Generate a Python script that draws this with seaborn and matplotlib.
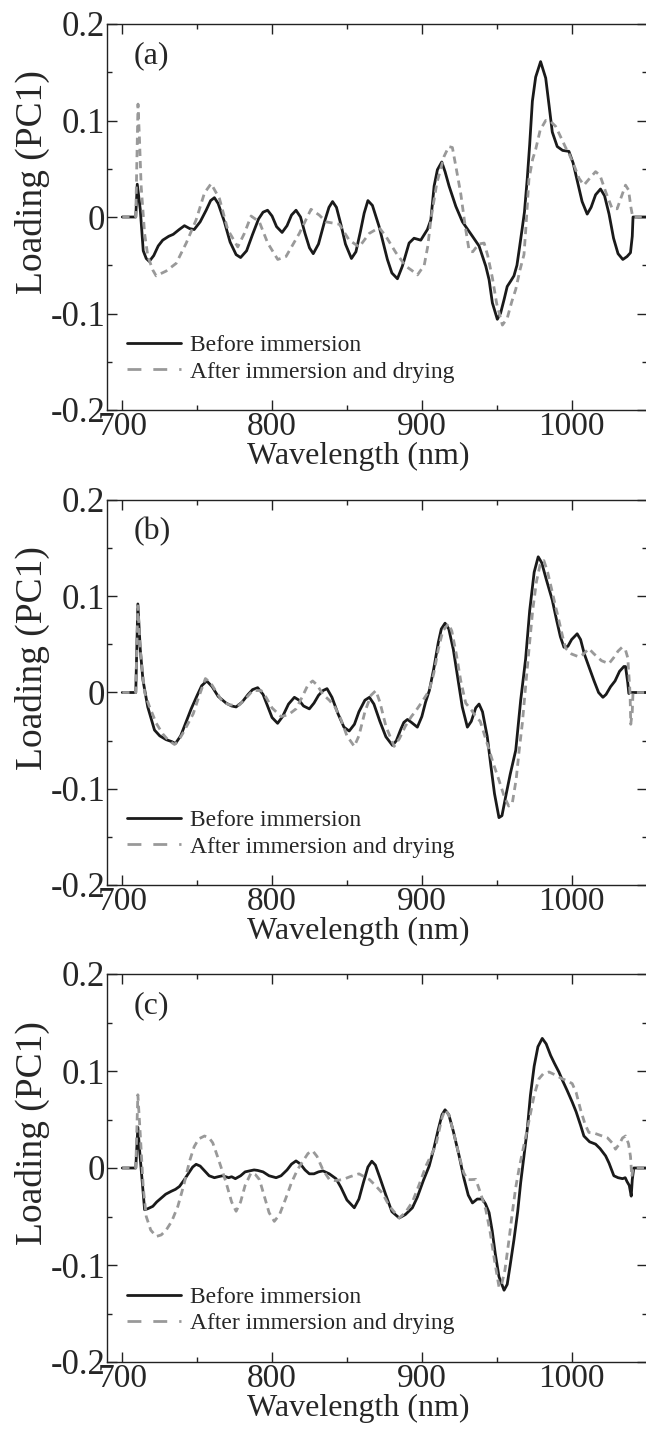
import numpy as np
import pandas as pd
import matplotlib
matplotlib.use("Agg")
import matplotlib.pyplot as plt
from matplotlib.ticker import MultipleLocator, FixedLocator
from matplotlib.lines import Line2D
import seaborn as sns

# ---- data (wavelength nm, PC1 loading) ----
a_before_wl = [700, 709, 710, 712, 714, 716, 718, 721, 724, 727, 731, 734, 738, 741.5, 745, 748, 752, 756, 759, 761.5,
               764, 768, 772, 776, 779, 783, 787, 791, 794, 797, 800, 803, 806.7, 810, 813, 816, 819, 822, 825, 827.5,
               831, 835, 838, 840.4, 843, 846, 849, 853, 856, 859, 861.5, 864, 867, 871.5, 877, 880, 883.7, 887, 891.5,
               894.8, 899.3, 903.7, 906, 908.2, 910.4, 913.3, 915.5, 918.2, 922.7, 927.1, 933.8, 938.2, 942.7, 944.9,
               947.1, 950.4, 952.6, 955, 957, 959.5, 961.5, 963.5, 965, 967, 968.5, 970.4, 972, 973.8, 976, 979.3,
               982.7, 985, 987.1, 990.4, 994, 998.2, 1001, 1004, 1007, 1010.4, 1013, 1016, 1019.3, 1022, 1025, 1028,
               1031, 1034.2, 1037, 1039.3, 1040.5, 1041, 1050]
a_before = [0, 0, 0.034, 0.008, -0.035, -0.043, -0.046, -0.040, -0.030, -0.024, -0.020, -0.018, -0.013, -0.009, -0.012,
            -0.013, -0.005, 0.007, 0.017, 0.020, 0.014, -0.004, -0.026, -0.039, -0.042, -0.035, -0.018, -0.002, 0.005,
            0.007, 0.001, -0.010, -0.016, -0.009, 0.002, 0.007, 0.000, -0.017, -0.032, -0.038, -0.028, -0.005, 0.010,
            0.016, 0.010, -0.008, -0.028, -0.043, -0.036, -0.015, 0.004, 0.017, 0.012, -0.010, -0.044, -0.058, -0.064,
            -0.051, -0.027, -0.022, -0.024, -0.013, -0.003, 0.032, 0.049, 0.057, 0.047, 0.032, 0.011, -0.005, -0.020,
            -0.030, -0.051, -0.065, -0.089, -0.106, -0.0995, -0.085, -0.072, -0.066, -0.061, -0.050, -0.034, -0.012,
            0.005, 0.040, 0.075, 0.120, 0.145, 0.161, 0.144, 0.115, 0.088, 0.073, 0.069, 0.068, 0.056, 0.036, 0.016,
            0.003, 0.010, 0.023, 0.029, 0.022, 0.003, -0.022, -0.038, -0.044, -0.041, -0.037, -0.020, 0, 0]

a_after_wl = [700, 709, 710.5, 711.5, 712.6, 714.9, 717.1, 720.4, 722.6, 729.3, 736, 742.7, 749.3, 754.9, 759.3, 764.9,
              770.4, 777.1, 781.5, 786, 791.5, 797.1, 803.8, 809.3, 818.2, 826, 831.5, 836, 844.9, 851.5, 858.2, 864.9,
              871.5, 876, 882.7, 889.3, 893, 897.1, 901.6, 904, 906, 910, 914.9, 918, 920.4, 923, 926, 929, 931.6, 934,
              938, 941.6, 944, 947.1, 950, 953.8, 957, 960, 962.7, 965.5, 968.2, 969.3, 971.5, 974, 976, 979, 982.7,
              986, 989.3, 993, 996, 998.2, 1002, 1005, 1008.2, 1012, 1016, 1019, 1023, 1027, 1030.4, 1033, 1036, 1038,
              1039.6, 1040.8, 1050]
a_after = [0, 0, 0.117, 0.080, 0.032, -0.017, -0.041, -0.055, -0.061, -0.056, -0.048, -0.027, -0.003, 0.025, 0.0345,
           0.019, -0.013, -0.031, -0.017, 0.001, -0.005, -0.027, -0.044, -0.041, -0.017, 0.008, 0.002, -0.005, -0.0075,
           -0.024, -0.031, -0.017, -0.011, -0.020, -0.037, -0.051, -0.055, -0.060, -0.050, -0.030, -0.003, 0.035, 0.063,
           0.073, 0.072, 0.050, 0.024, -0.010, -0.035, -0.036, -0.028, -0.027, -0.040, -0.063, -0.090, -0.112, -0.105,
           -0.088, -0.075, -0.055, -0.039, -0.015, 0.039, 0.060, 0.070, 0.090, 0.100, 0.099, 0.094, 0.082, 0.072,
           0.066, 0.052, 0.040, 0.033, 0.040, 0.047, 0.043, 0.025, 0.009, 0.0085, 0.020, 0.033, 0.028, 0.010, 0, 0]

b_before_wl = [700, 709, 710.4, 712, 713.8, 717, 721.5, 725, 729.3, 733, 735.5, 739, 742, 746, 750, 753, 756.4, 760,
               764, 769.3, 773, 776, 780, 784, 787, 790.4, 794, 797, 800, 803.7, 807, 811, 814.9, 818, 821, 824.9, 828,
               831, 834, 836.7, 840, 844, 848, 851.5, 855, 858, 862, 865, 868, 872, 876, 880.4, 883, 886, 888, 890.4,
               893, 897, 900, 902.5, 905, 908, 911, 913, 915.5, 918, 921, 924, 927, 930.4, 933, 936, 938.2, 940.5,
               943.7, 946, 948.5, 951.5, 953.5, 956, 959, 962.7, 966, 969.3, 972, 975, 977.7, 980, 983, 987.1, 990,
               992.5, 994.9, 997.5, 1000, 1003.7, 1006, 1008.5, 1011.5, 1015, 1018, 1020.9, 1023, 1026, 1029, 1032,
               1034.9, 1036, 1037.5, 1038.2, 1039, 1050]
b_before = [0, 0, 0.092, 0.045, 0.013, -0.015, -0.039, -0.045, -0.049, -0.051, -0.053, -0.045, -0.033, -0.017, -0.003,
            0.007, 0.012, 0.006, -0.004, -0.011, -0.014, -0.015, -0.010, -0.002, 0.003, 0.005, -0.002, -0.014, -0.026,
            -0.032, -0.025, -0.012, -0.005, -0.008, -0.014, -0.017, -0.011, -0.003, 0.002, 0.004, -0.005, -0.022,
            -0.036, -0.040, -0.033, -0.020, -0.008, -0.005, -0.012, -0.030, -0.046, -0.055, -0.050, -0.038, -0.031,
            -0.028, -0.031, -0.036, -0.025, -0.010, 0.002, 0.025, 0.052, 0.066, 0.072, 0.066, 0.045, 0.015, -0.015,
            -0.036, -0.030, -0.016, -0.012, -0.020, -0.046, -0.075, -0.105, -0.130, -0.128, -0.108, -0.085, -0.060,
            -0.008, 0.035, 0.085, 0.125, 0.141, 0.135, 0.118, 0.096, 0.075, 0.058, 0.047, 0.048, 0.055, 0.061, 0.055,
            0.040, 0.027, 0.012, 0.000, -0.005, -0.002, 0.006, 0.012, 0.022, 0.027, 0.027, 0.010, -0.001, 0, 0]

b_after_wl = [700, 709, 710.4, 712, 714.9, 718, 722.7, 727, 731, 734.9, 737.5, 740.4, 744, 747.4, 751, 755.5, 759, 763,
              767.1, 772, 778.2, 782, 787.1, 792.7, 796, 800, 806, 811, 816, 820, 824, 827.1, 830, 834, 838.2, 842, 846,
              850, 854.9, 858, 862, 866, 869.3, 872, 876, 881.5, 885, 889, 893, 896, 900, 904.9, 908, 911, 914, 917.8,
              920, 923, 926, 929.3, 933, 936, 939, 942, 945, 948, 951.5, 955, 958, 960.4, 963, 965, 967.1, 969.5,
              971.5, 974, 976.5, 979, 981.5, 984, 987, 989.5, 991.5, 994, 996, 1000, 1004.9, 1008, 1011.5, 1015, 1020,
              1024.9, 1028, 1031, 1033.7, 1036, 1037.5, 1039, 1039.5, 1040.5, 1041, 1050]
b_after = [0, 0, 0.090, 0.045, 0.000, -0.014, -0.032, -0.043, -0.050, -0.054, -0.050, -0.0425, -0.032, -0.022, -0.005,
           0.0145, 0.010, 0.000, -0.010, -0.013, -0.013, -0.007, 0.002, 0.002, -0.005, -0.016, -0.025, -0.023, -0.017,
           -0.005, 0.008, 0.012, 0.008, -0.002, -0.008, -0.015, -0.028, -0.045, -0.056, -0.045, -0.020, -0.003, 0.002,
           -0.010, -0.035, -0.056, -0.048, -0.035, -0.025, -0.019, -0.010, 0.002, 0.020, 0.045, 0.064, 0.0715, 0.064,
           0.040, 0.012, -0.011, -0.018, -0.025, -0.030, -0.045, -0.060, -0.075, -0.091, -0.108, -0.118, -0.115,
           -0.090, -0.060, -0.032, 0.010, 0.044, 0.085, 0.115, 0.133, 0.137, 0.125, 0.105, 0.088, 0.075, 0.058, 0.046,
           0.040, 0.037, 0.040, 0.0456, 0.040, 0.033, 0.030, 0.036, 0.043, 0.047, 0.044, 0.036, 0.000, -0.033, -0.020,
           0, 0]

c_before_wl = [700, 709, 710.4, 712, 714.9, 717, 720.4, 723, 726, 729, 732.7, 735.5, 738.2, 741, 744, 747, 749.3, 752,
               755, 758, 761.5, 764, 767, 769, 771, 773, 775.5, 779, 782, 784.9, 788, 790.4, 794, 798, 802.7, 806, 810,
               813, 816, 819, 822, 824.9, 828, 831, 834, 838.2, 842.7, 846, 850, 854.9, 858, 861, 864, 866.6, 869, 872,
               876, 880, 884.9, 889, 893.7, 897, 901, 904.9, 908, 911, 913.5, 915.5, 918, 921, 924.9, 928, 931, 933.8,
               937, 940.4, 942.5, 944.9, 947, 949, 951.5, 954.9, 957, 959, 961.5, 964, 966, 968.2, 970.4, 972.5, 975,
               977.5, 980.4, 983, 986, 988.5, 991.5, 994, 997, 1000.4, 1003, 1006, 1008.2, 1012, 1016, 1019, 1022.7,
               1025, 1028.2, 1031, 1034, 1035.8, 1037, 1038.5, 1039.8, 1040.5, 1041.5, 1050]
c_before = [0, 0, 0.042, 0.010, -0.043, -0.042, -0.0395, -0.035, -0.031, -0.027, -0.024, -0.022, -0.019, -0.013,
            -0.006, 0.001, 0.0038, 0.002, -0.003, -0.008, -0.010, -0.009, -0.008, -0.009, -0.010, -0.009, -0.011,
            -0.008, -0.004, -0.003, -0.002, -0.0025, -0.004, -0.008, -0.010, -0.008, -0.002, 0.004, 0.0073, 0.004,
            -0.002, -0.006, -0.006, -0.004, -0.003, -0.006, -0.011, -0.020, -0.033, -0.041, -0.032, -0.015, 0.001,
            0.007, 0.003, -0.010, -0.028, -0.045, -0.0515, -0.048, -0.041, -0.030, -0.013, 0.002, 0.020, 0.040, 0.055,
            0.060, 0.055, 0.038, 0.0125, -0.010, -0.028, -0.036, -0.032, -0.032, -0.037, -0.046, -0.065, -0.088,
            -0.112, -0.126, -0.120, -0.100, -0.074, -0.045, -0.015, 0.0125, 0.040, 0.075, 0.105, 0.125, 0.1336, 0.128,
            0.116, 0.108, 0.099, 0.090, 0.080, 0.068, 0.058, 0.044, 0.033, 0.027, 0.0246, 0.020, 0.0125, 0.005,
            -0.008, -0.010, -0.011, -0.010, -0.014, -0.018, -0.029, -0.012, 0, 0]

c_after_wl = [700, 709, 710.4, 712, 714, 716, 719, 722.7, 726, 729.3, 733, 737.1, 741, 744.9, 748, 751, 754.9, 758,
              760.4, 764, 769.3, 773, 776, 779, 782, 786, 789, 791.6, 795, 798, 801.5, 805, 809, 813, 817.1, 821, 824,
              827.1, 830, 834, 838.2, 842, 847.1, 852, 858, 864.9, 869, 873.7, 878.2, 884.9, 889, 893.7, 898, 903,
              909.3, 913.5, 915.5, 918, 921, 925, 928, 930.5, 933, 936, 939, 942.7, 945.5, 948.5, 951.5, 953, 955.5,
              958.2, 960.5, 962.7, 965, 967, 969.3, 972, 975, 978.2, 981, 984.9, 989, 993.7, 997, 1000.4, 1003, 1006,
              1009, 1011.5, 1015, 1020.4, 1024, 1027, 1029.3, 1032, 1034, 1036, 1038, 1039.3, 1040.2, 1041, 1050]
c_after = [0, 0, 0.0755, 0.035, -0.020, -0.050, -0.064, -0.0706, -0.069, -0.064, -0.055, -0.0395, -0.018, 0.007,
           0.022, 0.030, 0.033, 0.031, 0.026, 0.010, -0.015, -0.035, -0.0446, -0.035, -0.018, -0.005, -0.007, -0.012,
           -0.030, -0.046, -0.055, -0.048, -0.032, -0.015, -0.0014, 0.008, 0.015, 0.0177, 0.012, -0.002, -0.0117,
           -0.013, -0.012, -0.009, -0.006, -0.0117, -0.018, -0.026, -0.039, -0.0515, -0.046, -0.035, -0.018, 0.003,
           0.023, 0.052, 0.060, 0.055, 0.038, 0.012, -0.005, -0.012, -0.012, -0.0117, -0.025, -0.043, -0.065, -0.095,
           -0.1225, -0.122, -0.105, -0.074, -0.045, -0.020, 0.000, 0.015, 0.032, 0.052, 0.075, 0.092, 0.097, 0.099,
           0.096, 0.092, 0.090, 0.087, 0.078, 0.060, 0.045, 0.0367, 0.036, 0.033, 0.031, 0.026, 0.0194, 0.025, 0.031,
           0.033, 0.025, 0.012, -0.009, 0, 0]

panels = [("(a)", a_before_wl, a_before, a_after_wl, a_after),
          ("(b)", b_before_wl, b_before, b_after_wl, b_after),
          ("(c)", c_before_wl, c_before, c_after_wl, c_after)]

labels = ['Before immersion', 'After immersion and drying']
BLACK, GREY = '#1a1a1a', '#999999'

# ---- style ----
sns.set_style("ticks")
plt.rcParams['font.family'] = ['Liberation Serif', 'DejaVu Serif']
plt.rcParams['axes.unicode_minus'] = False

W, H = 646, 1439
fig = plt.figure(figsize=(W / 100, H / 100), dpi=100)

# axes boxes in pixels: (top, bottom)
boxes = [(24, 410), (500, 885), (974, 1362)]
left_px, right_px = 107.3, 646.5

for (tag, bwl, bval, awl, aval), (top, bot) in zip(panels, boxes):
    ax = fig.add_axes([left_px / W, 1 - bot / H, (right_px - left_px) / W, (bot - top) / H])
    before = pd.DataFrame({'wl': bwl, 'val': bval})
    after = pd.DataFrame({'wl': awl, 'val': aval})
    sns.lineplot(data=before, x='wl', y='val', ax=ax, color=BLACK, linewidth=2.0, estimator=None)
    sns.lineplot(data=after, x='wl', y='val', ax=ax, color=GREY, linewidth=2.0,
                 linestyle=(0, (2.6, 1.8)), estimator=None)

    ax.set_xlim(690, 1050)
    ax.set_ylim(-0.2, 0.2)
    ax.xaxis.set_major_locator(FixedLocator([700, 800, 900, 1000]))
    ax.xaxis.set_minor_locator(FixedLocator([750, 850, 950]))
    ax.yaxis.set_major_locator(FixedLocator([-0.2, -0.1, 0, 0.1, 0.2]))
    ax.yaxis.set_minor_locator(MultipleLocator(0.05))
    ax.set_yticklabels(['-0.2', '-0.1', '0', '0.1', '0.2'])
    ax.tick_params(which='both', direction='in', top=True, right=True, width=1.0, color='#222222')
    ax.tick_params(axis='y', labelsize=25, pad=1.5)
    ax.tick_params(axis='x', labelsize=24, pad=1)
    ax.tick_params(which='major', length=7)
    ax.tick_params(which='minor', length=3.5)
    for s in ax.spines.values():
        s.set_linewidth(1.0)
        s.set_color('#222222')
    ax.set_xlabel('Wavelength (nm)', fontsize=23)
    ax.xaxis.set_label_coords(0.465, -0.083, transform=ax.transAxes)
    ax.set_ylabel('Loading (PC1)', fontsize=27)
    ax.yaxis.set_label_coords(-0.106, 0.59, transform=ax.transAxes)
    ax.text(0.048, 0.955, tag, transform=ax.transAxes, fontsize=23, va='top', ha='left')

    handles = [Line2D([], [], color=BLACK, linewidth=2.0),
               Line2D([], [], color=GREY, linewidth=2.0, linestyle=(0, (5, 4.3)))]
    ax.legend(handles, labels, loc='center left', bbox_to_anchor=(0.036, 0.133), frameon=False, fontsize=17,
              handlelength=2.3, handletextpad=0.4, labelspacing=0.2, borderpad=0, borderaxespad=0)

fig.savefig('out.png', dpi=100)
